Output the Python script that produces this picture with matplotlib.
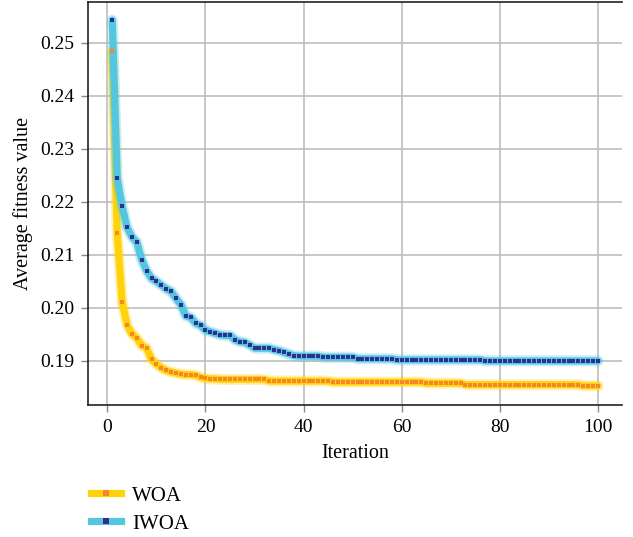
import matplotlib

matplotlib.use("Agg")
from matplotlib import pyplot as plt
from matplotlib import patheffects as pe
from matplotlib.lines import Line2D

# average fitness per iteration
iterations = list(range(1, 101))
woa = [
    0.2485, 0.2141, 0.2012, 0.1968, 0.1951, 0.1943, 0.1929, 0.1924, 0.1903, 0.1894,
    0.1887, 0.1882, 0.1879, 0.1877, 0.1875, 0.1874, 0.1874, 0.1873, 0.1869, 0.1867,
    0.1866, 0.1866, 0.1865, 0.1865, 0.1865, 0.1865, 0.1865, 0.1865, 0.1865, 0.1865,
    0.1865, 0.1865, 0.1862, 0.1862, 0.1862, 0.1862, 0.1862, 0.1862, 0.1862, 0.1862,
    0.1862, 0.1862, 0.1862, 0.1862, 0.1862, 0.1860, 0.1860, 0.1860, 0.1860, 0.1860,
    0.1860, 0.1860, 0.1860, 0.1860, 0.1860, 0.1860, 0.1860, 0.1860, 0.1860, 0.1860,
    0.1860, 0.1860, 0.1860, 0.1860, 0.1858, 0.1858, 0.1858, 0.1858, 0.1858, 0.1858,
    0.1858, 0.1858, 0.1855, 0.1855, 0.1855, 0.1855, 0.1855, 0.1855, 0.1855, 0.1855,
    0.1855, 0.1855, 0.1855, 0.1855, 0.1855, 0.1855, 0.1855, 0.1855, 0.1855, 0.1855,
    0.1855, 0.1855, 0.1855, 0.1855, 0.1855, 0.1855, 0.1853, 0.1853, 0.1853, 0.1853,
]
iwoa = [
    0.2543, 0.2245, 0.2192, 0.2152, 0.2134, 0.2124, 0.2091, 0.2070, 0.2056, 0.2050,
    0.2043, 0.2036, 0.2031, 0.2018, 0.2006, 0.1985, 0.1982, 0.1971, 0.1967, 0.1958,
    0.1955, 0.1952, 0.1949, 0.1948, 0.1948, 0.1940, 0.1936, 0.1935, 0.1930, 0.1924,
    0.1924, 0.1924, 0.1924, 0.1921, 0.1919, 0.1916, 0.1913, 0.1910, 0.1909, 0.1909,
    0.1909, 0.1909, 0.1909, 0.1907, 0.1907, 0.1907, 0.1907, 0.1907, 0.1907, 0.1907,
    0.1904, 0.1904, 0.1904, 0.1904, 0.1904, 0.1904, 0.1904, 0.1904, 0.1902, 0.1902,
    0.1902, 0.1902, 0.1902, 0.1902, 0.1902, 0.1902, 0.1902, 0.1902, 0.1902, 0.1902,
    0.1902, 0.1902, 0.1902, 0.1902, 0.1902, 0.1902, 0.1900, 0.1900, 0.1900, 0.1900,
    0.1900, 0.1900, 0.1900, 0.1900, 0.1900, 0.1900, 0.1900, 0.1900, 0.1900, 0.1900,
    0.1900, 0.1900, 0.1900, 0.1900, 0.1900, 0.1900, 0.1900, 0.1900, 0.1900, 0.1900,
]
series_names = ["WOA", "IWOA"]
y_ticks = [0.19, 0.20, 0.21, 0.22, 0.23, 0.24, 0.25]
x_ticks = [0, 20, 40, 60, 80, 100]

plt.rcParams["font.family"] = ["Liberation Serif", "DejaVu Serif"]
plt.rcParams["font.size"] = 13

fig = plt.figure(figsize=(6.33, 5.37), dpi=100)
ax = fig.add_axes([0.139, 0.246, 0.844, 0.750])

styles = [
    ("#FFD20A", "#F5862A", woa),
    ("#55C6DF", "#2E2F8E", iwoa),
]
for (line_c, mark_c, values), name in zip(styles, series_names):
    ax.plot(
        iterations, values, color=line_c, linewidth=5.2, solid_capstyle="round",
        path_effects=[pe.Stroke(linewidth=8, foreground=line_c, alpha=0.3), pe.Normal()],
        zorder=3,
    )
    ax.plot(iterations, values, linestyle="none", marker="s", markersize=2.9,
            color=mark_c, markeredgewidth=0, zorder=4)

ax.set_xlim(-3.95, 104.95)
ax.set_ylim(0.1817, 0.2577)
ax.set_xticks(x_ticks)
ax.set_yticks(y_ticks)
ax.set_yticklabels([f"{t:.2f}" for t in y_ticks])
ax.grid(color="#BDBDBD", linewidth=1.2)
ax.set_axisbelow(True)
ax.tick_params(length=5, width=1, color="#888888", labelsize=14, pad=5)

for side in ("left", "bottom", "top"):
    ax.spines[side].set_color("#222222")
    ax.spines[side].set_linewidth(1.2)
ax.spines["right"].set_visible(False)

ax.set_xlabel("Iteration", fontsize=14.5, labelpad=6)
ax.set_ylabel("Average fitness value", fontsize=14.5, labelpad=5)

handles = [
    Line2D([], [], color=c, linewidth=5.2, marker="s", markersize=4,
           markerfacecolor=m, markeredgewidth=0)
    for c, m, _ in styles
]
fig.legend(handles, series_names, loc="upper left", bbox_to_anchor=(0.128, 0.114),
           frameon=False, fontsize=15, handlelength=1.4, handletextpad=0.55,
           labelspacing=0.4, borderpad=0)

fig.savefig("out.png", dpi=100)
plt.close(fig)
